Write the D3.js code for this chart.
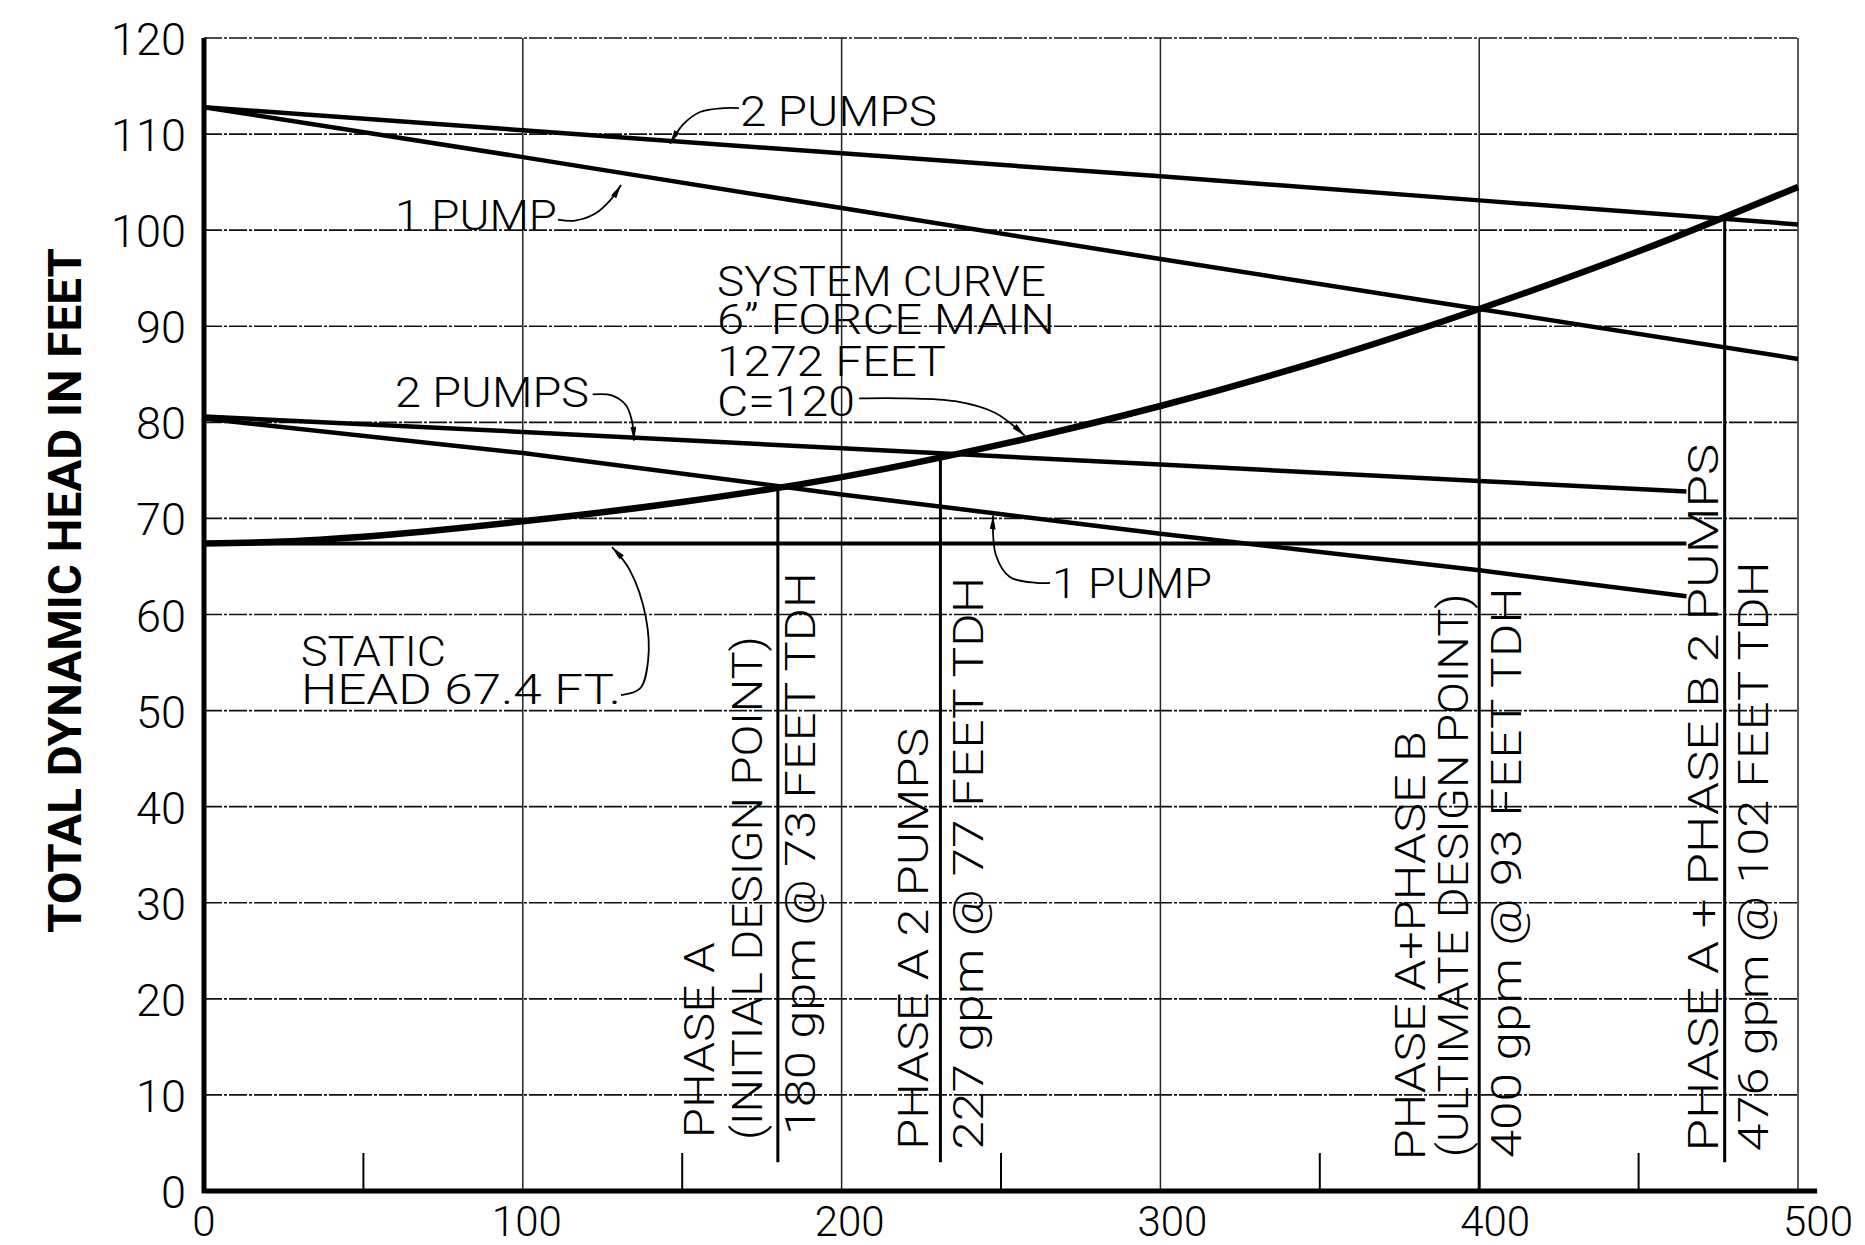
<!DOCTYPE html>
<meta charset="utf-8">
<style>
    body { margin: 0; background: #fff; }
    svg text { font-family: Roboto, "DejaVu Sans", sans-serif; font-weight: 300; fill: #000; }
</style>
<svg width="1865" height="1245"></svg>
<script src="https://d3js.org/d3.v7.min.js"></script>
<script>
    // values: flow in gpm, head in feet
    var pumpQ = [0, 100, 200, 300, 400, 500];
    var twoPumpsHigh = [112.8, 110.4, 108.0, 105.6, 103.1, 100.6];
    var onePumpHigh = [112.8, 107.6, 102.3, 97.0, 91.8, 86.6];
    var lowQ = [0, 100, 200, 300, 400, 465];
    var twoPumpsLow = [80.6, 79.0, 77.3, 75.6, 73.9, 72.8];
    var onePumpLow = [80.4, 76.8, 72.5, 68.4, 64.6, 61.9];
    var systemQ = [0, 25, 50, 100, 150, 200, 250, 300, 350, 400, 450, 500];
    var systemH = [67.4, 67.6, 68.1, 69.7, 71.7, 74.3, 77.7, 81.7, 86.4, 91.8, 97.8, 104.5];
    var staticQ = [0, 465];
    var staticH = [67.4, 67.4];
    var designQ = [180, 231, 400, 477];
    var designH = [73.3, 76.8, 91.8, 101.3];
    var designFloor = [3, 3, 0, 3];
    var xTicks = [0, 100, 200, 300, 400, 500];
    var xMinor = [50, 150, 250, 350, 450];
    var yTicks = [0, 10, 20, 30, 40, 50, 60, 70, 80, 90, 100, 110, 120];
    var yTitle = "TOTAL DYNAMIC HEAD IN FEET";

    var svg = d3.select("svg"),
        x = d3.scaleLinear().domain([0, 500]).range([204, 1798]),
        y = d3.scaleLinear().domain([0, 120]).range([1191, 38]),
        zip = function (qs, hs) {
            return qs.map(function (q, i) { return [q, hs[i]]; });
        },
        line = d3.line()
            .x(function (d) { return x(d[0]); })
            .y(function (d) { return y(d[1]); });

    svg.append("rect").attr("width", 1865).attr("height", 1245).attr("fill", "#fff");

    svg.append("defs").append("marker")
        .attr("id", "arrow")
        .attr("viewBox", "0 0 14 6")
        .attr("refX", 14)
        .attr("refY", 3)
        .attr("markerWidth", 14)
        .attr("markerHeight", 6)
        .attr("markerUnits", "userSpaceOnUse")
        .attr("orient", "auto")
        .append("path")
        .attr("d", "M0,0 L14,3 L0,6 z")
        .attr("fill", "#000");

    // grid
    svg.selectAll(".hgrid")
        .data(yTicks.slice(1))
        .enter()
        .append("line")
        .attr("x1", x(0))
        .attr("x2", x(500))
        .attr("y1", y)
        .attr("y2", y)
        .attr("stroke", "#111")
        .attr("stroke-width", 1.7)
        .attr("stroke-dasharray", "18,2,3,2");

    svg.selectAll(".vgrid")
        .data(xTicks.slice(1))
        .enter()
        .append("line")
        .attr("x1", x)
        .attr("x2", x)
        .attr("y1", y(120))
        .attr("y2", y(0))
        .attr("stroke", "#222")
        .attr("stroke-width", 1.5);

    svg.selectAll(".minor")
        .data(xMinor)
        .enter()
        .append("line")
        .attr("x1", x)
        .attr("x2", x)
        .attr("y1", y(0))
        .attr("y2", y(0) - 38)
        .attr("stroke", "#000")
        .attr("stroke-width", 2);

    // axes
    svg.append("line")
        .attr("x1", x(0)).attr("x2", x(0))
        .attr("y1", y(120)).attr("y2", y(0) + 2)
        .attr("stroke", "#000").attr("stroke-width", 5);
    svg.append("line")
        .attr("x1", x(0) - 2).attr("x2", x(506))
        .attr("y1", y(0)).attr("y2", y(0))
        .attr("stroke", "#000").attr("stroke-width", 5);

    svg.selectAll(".ylab")
        .data(yTicks)
        .enter()
        .append("text")
        .attr("x", 186)
        .attr("y", function (d) { return y(d) + 17; })
        .attr("text-anchor", "end")
        .attr("font-size", 45)
        .text(function (d) { return d; });

    svg.selectAll(".xlab")
        .data(xTicks)
        .enter()
        .append("text")
        .attr("x", function (d) { return x(d) + d / 25; })
        .attr("y", 1236)
        .attr("text-anchor", "middle")
        .attr("font-size", 42)
        .text(function (d) { return d; });

    svg.append("text")
        .attr("transform", "translate(81,933) rotate(-90)")
        .attr("font-family", "'Liberation Sans', Arial, sans-serif")
        .style("font-weight", "bold")
        .attr("font-size", 46)
        .attr("textLength", 685)
        .attr("lengthAdjust", "spacingAndGlyphs")
        .text(yTitle);

    // design point verticals
    svg.selectAll(".design")
        .data(designQ)
        .enter()
        .append("line")
        .attr("x1", x)
        .attr("x2", x)
        .attr("y1", function (d, i) { return y(designH[i]); })
        .attr("y2", function (d, i) { return y(designFloor[i]); })
        .attr("stroke", "#000")
        .attr("stroke-width", 3);

    // curves
    [[zip(pumpQ, twoPumpsHigh), 4.5, d3.curveLinear],
     [zip(pumpQ, onePumpHigh), 4.5, d3.curveLinear],
     [zip(lowQ, twoPumpsLow), 4.5, d3.curveLinear],
     [zip(lowQ, onePumpLow), 4.5, d3.curveLinear],
     [zip(staticQ, staticH), 4, d3.curveLinear],
     [zip(systemQ, systemH), 6.5, d3.curveMonotoneX]].forEach(function (c) {
        svg.append("path")
            .attr("d", line.curve(c[2])(c[0]))
            .attr("fill", "none")
            .attr("stroke", "#000")
            .attr("stroke-width", c[1]);
    });

    // annotations (anchored in data units)
    var labels = [
        {t: "2 PUMPS", q: 168.1, h: 110.8, len: 197},
        {t: "1 PUMP", q: 59.9, h: 100.0, len: 162},
        {t: "SYSTEM CURVE", q: 160.9, h: 93.2, len: 329},
        {t: "6\u201D FORCE MAIN", q: 160.9, h: 89.2, len: 338},
        {t: "1272 FEET", q: 160.9, h: 84.8, len: 229},
        {t: "C=120", q: 160.9, h: 80.7, len: 138},
        {t: "2 PUMPS", q: 59.9, h: 81.6, len: 194},
        {t: "1 PUMP", q: 266.0, h: 61.7, len: 160},
        {t: "STATIC", q: 30.4, h: 54.6, len: 145},
        {t: "HEAD 67.4 FT.", q: 30.4, h: 50.7, len: 320}
    ];
    svg.selectAll(".note")
        .data(labels)
        .enter()
        .append("text")
        .attr("x", function (d) { return x(d.q); })
        .attr("y", function (d) { return y(d.h); })
        .attr("font-size", 42)
        .attr("textLength", function (d) { return d.len; })
        .attr("lengthAdjust", "spacingAndGlyphs")
        .text(function (d) { return d.t; });

    var vlabels = [
        {t: "PHASE A", q: 160.0, h: 5.5, len: 196},
        {t: "(INITIAL DESIGN POINT)", q: 175.0, h: 5.3, len: 504},
        {t: "180 gpm @ 73 FEET TDH", q: 191.6, h: 5.8, len: 563},
        {t: "PHASE A 2 PUMPS", q: 227.0, h: 4.3, len: 422},
        {t: "227 gpm @ 77 FEET TDH", q: 244.3, h: 4.3, len: 573},
        {t: "PHASE A+PHASE B", q: 383.0, h: 3.2, len: 429},
        {t: "(ULTIMATE DESIGN POINT)", q: 396.5, h: 3.5, len: 564},
        {t: "400 gpm @ 93 FEET TDH", q: 413.0, h: 3.4, len: 571},
        {t: "PHASE A + PHASE B 2 PUMPS", q: 475.0, h: 4.1, len: 708},
        {t: "476 gpm @ 102 FEET TDH", q: 490.6, h: 4.1, len: 590}
    ];
    svg.selectAll(".vnote")
        .data(vlabels)
        .enter()
        .append("text")
        .attr("transform", function (d) {
            return "translate(" + x(d.q) + "," + y(d.h) + ") rotate(-90)";
        })
        .attr("font-size", 42)
        .attr("textLength", function (d) { return d.len; })
        .attr("lengthAdjust", "spacingAndGlyphs")
        .text(function (d) { return d.t; });

    var leaders = [
        [[167.8, 112.7], [163.1, 112.7], [155.6, 112.3], [150.3, 111.0], [146.2, 109.0]],
        [[111.0, 101.1], [116.4, 101.0], [122.6, 101.7], [127.4, 103.1], [130.8, 104.7]],
        [[205.5, 82.5], [219.9, 82.5], [235.6, 82.2], [248.1, 81.0], [257.5, 78.6]],
        [[121.9, 82.9], [127.9, 82.8], [132.3, 81.8], [134.2, 80.2], [134.9, 78.1]],
        [[265.4, 63.3], [261.0, 63.3], [252.8, 63.9], [248.4, 66.2], [247.5, 70.3]],
        [[130.8, 51.6], [136.8, 52.3], [139.3, 55.2], [138.6, 59.7], [133.6, 64.6], [128.0, 67.0]]
    ];
    leaders.forEach(function (pts) {
        svg.append("path")
            .attr("d", line.curve(d3.curveCatmullRom)(pts))
            .attr("fill", "none")
            .attr("stroke", "#000")
            .attr("stroke-width", 1.8)
            .attr("marker-end", "url(#arrow)");
    });
</script>
